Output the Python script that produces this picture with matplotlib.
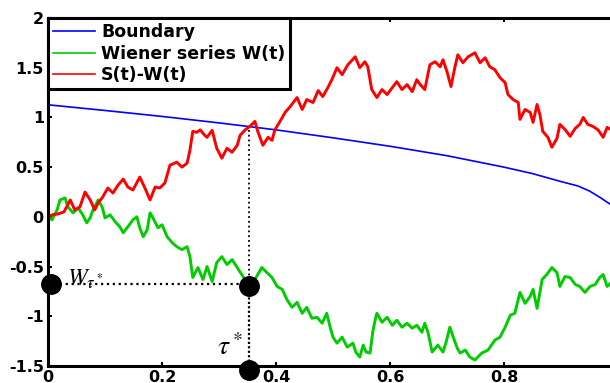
import numpy as np
import matplotlib
matplotlib.use("Agg")
import matplotlib.pyplot as plt

plt.rcParams['axes.unicode_minus'] = False
plt.rcParams['mathtext.fontset'] = 'stix'

# boundary curve
t_boundary = [0.0, 0.1, 0.2, 0.3, 0.4, 0.5, 0.6, 0.7, 0.8, 0.85, 0.9, 0.93, 0.95, 0.97, 0.988]
boundary = [1.127, 1.07, 1.01, 0.945, 0.875, 0.795, 0.71, 0.615, 0.50, 0.435, 0.355, 0.31, 0.26, 0.19, 0.12]

# Wiener path W(t)
t_wiener = [0.0, 0.007, 0.016, 0.021, 0.030, 0.035, 0.044, 0.053, 0.061, 0.068, 0.074, 0.079,
            0.088, 0.095, 0.100, 0.109, 0.118, 0.126, 0.132, 0.140, 0.149, 0.156, 0.161, 0.167,
            0.174, 0.179, 0.184, 0.193, 0.200, 0.209, 0.218, 0.226, 0.235, 0.244, 0.249, 0.254,
            0.263, 0.272, 0.279, 0.288, 0.296, 0.305, 0.314, 0.323, 0.332, 0.342, 0.351, 0.363,
            0.375, 0.384, 0.393, 0.402, 0.411, 0.419, 0.428, 0.437, 0.446, 0.454, 0.463, 0.472,
            0.481, 0.489, 0.495, 0.500, 0.507, 0.516, 0.525, 0.535, 0.540, 0.547, 0.553, 0.558,
            0.565, 0.570, 0.575, 0.577, 0.586, 0.595, 0.604, 0.612, 0.621, 0.630, 0.639, 0.647,
            0.656, 0.661, 0.667, 0.674, 0.684, 0.693, 0.698, 0.705, 0.711, 0.718, 0.723, 0.732,
            0.740, 0.749, 0.761, 0.772, 0.784, 0.793, 0.802, 0.811, 0.819, 0.828, 0.837, 0.846,
            0.851, 0.858, 0.867, 0.875, 0.884, 0.893, 0.898, 0.907, 0.916, 0.925, 0.933, 0.942,
            0.951, 0.960, 0.968, 0.974, 0.981, 0.988]
wiener = [0.0, -0.03, 0.07, 0.17, 0.19, 0.10, 0.04, 0.09, 0.02, -0.06, -0.01, 0.07,
          0.17, 0.10, -0.01, 0.02, -0.05, -0.10, -0.16, -0.10, -0.03, 0.00, -0.11, -0.20,
          -0.13, 0.04, -0.01, -0.11, -0.08, -0.20, -0.26, -0.30, -0.33, -0.30, -0.40, -0.61,
          -0.51, -0.63, -0.50, -0.65, -0.46, -0.40, -0.48, -0.43, -0.51, -0.60, -0.66, -0.63,
          -0.51, -0.56, -0.61, -0.70, -0.73, -0.83, -0.91, -0.86, -0.97, -0.91, -1.02, -1.01,
          -1.07, -0.97, -1.11, -1.21, -1.27, -1.21, -1.31, -1.27, -1.36, -1.41, -1.29, -1.36,
          -1.37, -1.15, -1.01, -0.97, -1.06, -1.01, -1.09, -1.04, -1.11, -1.07, -1.12, -1.09,
          -1.16, -1.07, -1.17, -1.36, -1.29, -1.36, -1.27, -1.11, -1.21, -1.32, -1.37, -1.34,
          -1.41, -1.44, -1.37, -1.34, -1.24, -1.21, -1.11, -0.99, -0.97, -0.76, -0.87, -0.80,
          -0.73, -0.92, -0.63, -0.58, -0.51, -0.56, -0.70, -0.60, -0.61, -0.68, -0.70, -0.76,
          -0.70, -0.68, -0.61, -0.58, -0.70, -0.66]

# S(t) - W(t)
t_diff = [0.0, 0.007, 0.018, 0.028, 0.039, 0.047, 0.056, 0.065, 0.074, 0.082, 0.088, 0.096,
          0.105, 0.114, 0.123, 0.132, 0.140, 0.149, 0.161, 0.170, 0.179, 0.188, 0.196, 0.205,
          0.214, 0.226, 0.235, 0.244, 0.249, 0.254, 0.261, 0.267, 0.275, 0.279, 0.288, 0.296,
          0.305, 0.314, 0.323, 0.332, 0.337, 0.346, 0.354, 0.363, 0.368, 0.377, 0.386, 0.393,
          0.398, 0.407, 0.416, 0.425, 0.437, 0.446, 0.454, 0.465, 0.474, 0.482, 0.491, 0.498,
          0.507, 0.516, 0.526, 0.539, 0.547, 0.556, 0.561, 0.568, 0.577, 0.586, 0.595, 0.604,
          0.612, 0.621, 0.630, 0.639, 0.647, 0.653, 0.661, 0.670, 0.679, 0.688, 0.693, 0.700,
          0.707, 0.714, 0.719, 0.728, 0.737, 0.749, 0.758, 0.767, 0.775, 0.784, 0.793, 0.802,
          0.807, 0.816, 0.825, 0.828, 0.837, 0.846, 0.851, 0.858, 0.863, 0.868, 0.877, 0.884,
          0.893, 0.898, 0.907, 0.916, 0.925, 0.933, 0.939, 0.947, 0.956, 0.965, 0.974, 0.981,
          0.988]
diff = [0.0, 0.02, 0.03, 0.05, 0.17, 0.07, 0.10, 0.25, 0.17, 0.07, 0.14, 0.20,
        0.29, 0.24, 0.32, 0.38, 0.30, 0.27, 0.40, 0.29, 0.17, 0.30, 0.29, 0.34,
        0.52, 0.55, 0.50, 0.54, 0.67, 0.86, 0.85, 0.875, 0.82, 0.80, 0.87, 0.69,
        0.59, 0.69, 0.65, 0.72, 0.82, 0.875, 0.91, 0.96, 0.86, 0.72, 0.80, 0.77,
        0.875, 0.96, 1.05, 1.11, 1.20, 1.08, 1.18, 1.15, 1.27, 1.21, 1.30, 1.38,
        1.50, 1.43, 1.53, 1.61, 1.50, 1.56, 1.51, 1.28, 1.20, 1.28, 1.23, 1.30,
        1.36, 1.28, 1.33, 1.26, 1.38, 1.33, 1.28, 1.53, 1.56, 1.51, 1.58, 1.46,
        1.31, 1.51, 1.63, 1.55, 1.61, 1.65, 1.55, 1.60, 1.51, 1.48, 1.40, 1.35,
        1.23, 1.18, 1.15, 0.98, 1.08, 1.05, 0.95, 1.13, 1.03, 0.86, 0.80, 0.70,
        0.79, 0.93, 0.88, 0.81, 0.89, 0.93, 1.00, 0.93, 0.91, 0.875, 0.80, 0.90,
        0.875]

# stopping time and the value of W there
tau_star = 0.352
w_tau = -0.68
diff_at_tau = 0.875

fig = plt.figure(figsize=(6.10, 3.83), dpi=100)
ax = fig.add_axes([0.0787, 0.0444, 0.9344, 0.9086])

ax.plot(t_boundary, boundary, color='#0000ff', lw=1.2, label='Boundary')
ax.plot(t_wiener, wiener, color='#00cc00', lw=2.1, label='Wiener series W(t)')
ax.plot(t_diff, diff, color='#ff0000', lw=2.1, label='S(t)-W(t)')

# dotted guides
ax.plot([0, tau_star], [w_tau, w_tau], color='black', ls=':', lw=1.6)
ax.plot([tau_star, tau_star], [diff_at_tau, w_tau], color='black', ls=':', lw=1.3)
ax.plot([tau_star, tau_star], [w_tau, -1.54], color='black', ls=(0, (1, 1)), lw=1.6)
ax.plot([0.005, tau_star, tau_star], [w_tau, w_tau - 0.02, -1.54], 'o', color='black',
        ms=14, clip_on=False, zorder=5)

ax.text(0.033, -0.695, r'$W_{\tau^*}$', fontsize=17, color='black')
ax.text(0.296, -1.39, r'$\tau^*$', fontsize=20, color='black')

ax.set_xlim(0, 1)
ax.set_ylim(-1.5, 2)
ax.set_xticks([0, 0.2, 0.4, 0.6, 0.8, 1.0])
ax.set_xticklabels(['0', '0.2', '0.4', '0.6', '0.8', '1'])
ax.set_yticks([-1.5, -1, -0.5, 0, 0.5, 1, 1.5, 2])
ax.set_yticklabels(['-1.5', '-1', '-0.5', '0', '0.5', '1', '1.5', '2'])
ax.tick_params(direction='in', length=3, width=1.5, top=True, right=True,
               labelsize=11.5, pad=3)
for lab in ax.get_xticklabels() + ax.get_yticklabels():
    lab.set_fontweight('bold')
for sp in ax.spines.values():
    sp.set_linewidth(2.2)

leg = ax.legend(loc='upper left', borderaxespad=0, fancybox=False, framealpha=1,
                edgecolor='black', prop={'weight': 'bold', 'size': 12.5},
                handlelength=2.4, handletextpad=0.35, labelspacing=0.2,
                borderpad=0.3)
leg.get_frame().set_linewidth(2.2)
for h in leg.get_lines():
    h.set_linewidth(1.2)

plt.savefig("out.png", dpi=100)
plt.close()
